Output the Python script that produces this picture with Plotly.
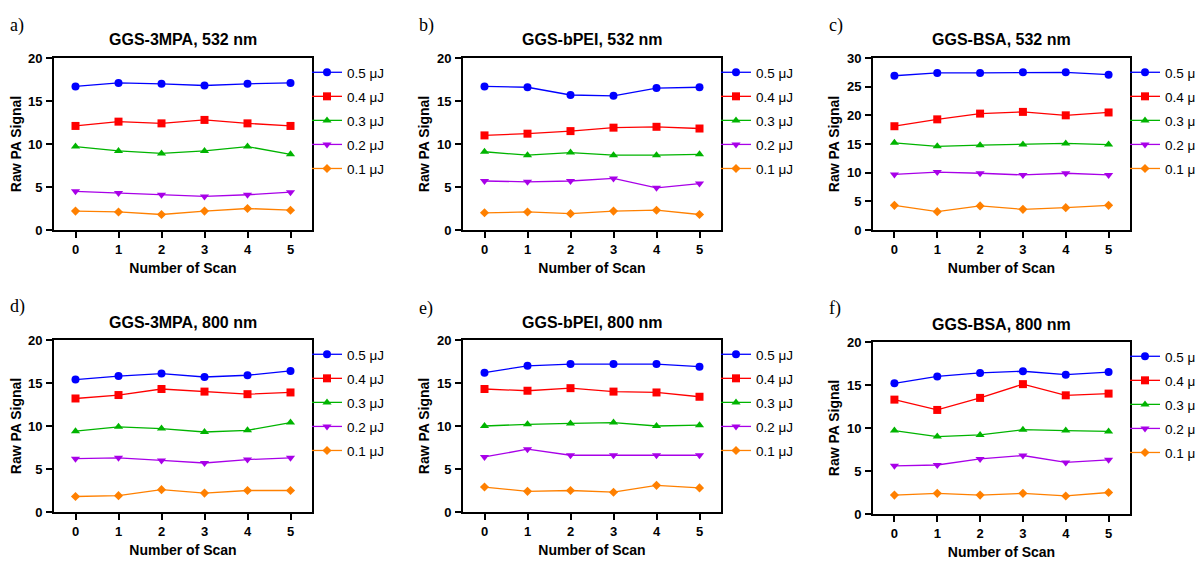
import plotly.graph_objects as go

scans = [0, 1, 2, 3, 4, 5]
energies = ["0.5 μJ", "0.4 μJ", "0.3 μJ", "0.2 μJ", "0.1 μJ"]

panel_labels = ["a)", "b)", "c)", "d)", "e)", "f)"]
panel_titles = ["GGS-3MPA, 532 nm", "GGS-bPEI, 532 nm", "GGS-BSA, 532 nm",
                "GGS-3MPA, 800 nm", "GGS-bPEI, 800 nm", "GGS-BSA, 800 nm"]

# a) GGS-3MPA 532
a_05 = [16.7, 17.1, 17.0, 16.8, 17.0, 17.1]
a_04 = [12.1, 12.6, 12.4, 12.8, 12.4, 12.1]
a_03 = [9.7, 9.2, 8.9, 9.2, 9.7, 8.8]
a_02 = [4.5, 4.3, 4.1, 3.9, 4.1, 4.4]
a_01 = [2.2, 2.1, 1.8, 2.2, 2.5, 2.3]
# b) GGS-bPEI 532
b_05 = [16.7, 16.6, 15.7, 15.6, 16.5, 16.6]
b_04 = [11.0, 11.2, 11.5, 11.9, 12.0, 11.8]
b_03 = [9.1, 8.7, 9.0, 8.7, 8.7, 8.8]
b_02 = [5.7, 5.6, 5.7, 6.0, 4.9, 5.4]
b_01 = [2.0, 2.1, 1.9, 2.2, 2.3, 1.8]
# c) GGS-BSA 532
c_05 = [26.9, 27.4, 27.4, 27.5, 27.5, 27.1]
c_04 = [18.1, 19.3, 20.3, 20.6, 20.0, 20.5]
c_03 = [15.2, 14.6, 14.8, 14.9, 15.1, 14.9]
c_02 = [9.7, 10.1, 9.9, 9.6, 9.9, 9.6]
c_01 = [4.3, 3.2, 4.2, 3.6, 3.9, 4.3]
# d) GGS-3MPA 800
d_05 = [15.4, 15.8, 16.1, 15.7, 15.9, 16.4]
d_04 = [13.2, 13.6, 14.3, 14.0, 13.7, 13.9]
d_03 = [9.4, 9.9, 9.7, 9.3, 9.5, 10.4]
d_02 = [6.2, 6.3, 6.0, 5.7, 6.1, 6.3]
d_01 = [1.8, 1.9, 2.6, 2.2, 2.5, 2.5]
# e) GGS-bPEI 800
e_05 = [16.2, 17.0, 17.2, 17.2, 17.2, 16.9]
e_04 = [14.3, 14.1, 14.4, 14.0, 13.9, 13.4]
e_03 = [10.0, 10.2, 10.3, 10.4, 10.0, 10.1]
e_02 = [6.4, 7.3, 6.6, 6.6, 6.6, 6.6]
e_01 = [2.9, 2.4, 2.5, 2.3, 3.1, 2.8]
# f) GGS-BSA 800
f_05 = [15.2, 16.0, 16.4, 16.6, 16.2, 16.5]
f_04 = [13.3, 12.1, 13.5, 15.1, 13.8, 14.0]
f_03 = [9.7, 9.0, 9.2, 9.8, 9.7, 9.6]
f_02 = [5.6, 5.7, 6.4, 6.8, 6.0, 6.3]
f_01 = [2.2, 2.4, 2.2, 2.4, 2.1, 2.5]

panels = [
    [a_05, a_04, a_03, a_02, a_01],
    [b_05, b_04, b_03, b_02, b_01],
    [c_05, c_04, c_03, c_02, c_01],
    [d_05, d_04, d_03, d_02, d_01],
    [e_05, e_04, e_03, e_02, e_01],
    [f_05, f_04, f_03, f_02, f_01],
]
y_max = [20, 20, 30, 20, 20, 20]

colors = ["#0000FF", "#FF0000", "#00B400", "#A800E8", "#FF8000"]
symbols = ["circle", "square", "triangle-up", "triangle-down", "diamond"]
msizes = [8, 8, 8, 8, 7]

# page body has an 8px margin, so the figure is drawn 8px in from the window corner
OFF = 8
W, H = 1203 - OFF, 561 - OFF
# plot-area boxes in window pixels (left, right, top, bottom)
boxes = [
    (54, 312, 58, 230), (463, 721, 58, 230), (873, 1130, 58, 230),
    (54, 312, 340, 512), (463, 721, 340, 512), (873, 1130, 342, 514),
]
label_pos = [(8, 26), (417, 26), (827, 26), (8, 306), (417, 308), (827, 308)]
legend_dx = -5


def px(xw):
    return (xw - OFF) / W


def py(yw):
    return 1 - (yw - OFF) / H


FONT = "Arial, Liberation Sans"
fig = go.Figure()
annotations = []
layout = {}
for i, (series, box) in enumerate(zip(panels, boxes)):
    n = "" if i == 0 else str(i + 1)
    l, r, t, b = box
    leg = "legend" + n
    for j, vals in enumerate(series):
        fig.add_trace(go.Scatter(
            x=scans, y=vals, name=energies[j], mode="lines+markers",
            line=dict(color=colors[j], width=1.3),
            marker=dict(color=colors[j], symbol=symbols[j], size=msizes[j]),
            xaxis="x" + n, yaxis="y" + n, legend=leg, legendgroup=f"g{i}{j}",
        ))
    axis_common = dict(showline=True, linecolor="black", linewidth=2, mirror=True,
                       ticks="outside", ticklen=6, tickwidth=2, tickcolor="black",
                       showgrid=False, zeroline=False, automargin=False,
                       tickfont=dict(family=FONT, size=13, color="black", weight="bold"))
    layout["xaxis" + n] = dict(axis_common, domain=[px(l), px(r)], anchor="y" + n,
                               range=[-0.5, 5.5], tickvals=scans,
                               title=dict(text="<b>Number of Scan</b>", standoff=8,
                                          font=dict(family=FONT, size=14, color="black")))
    layout["yaxis" + n] = dict(axis_common, domain=[py(b), py(t)], anchor="x" + n,
                               range=[0, y_max[i]], dtick=5, ticklabelstandoff=1,
                               title=dict(text="<b>Raw PA Signal</b>", standoff=4,
                                          font=dict(family=FONT, size=14, color="black")))
    layout[leg] = dict(x=px(r + legend_dx), y=py(t - 1), xanchor="left", yanchor="top",
                       font=dict(family=FONT, size=13.5, color="black"),
                       tracegroupgap=3.5, traceorder="grouped", bgcolor="rgba(0,0,0,0)",
                       itemwidth=30)
    annotations.append(dict(text="<b>" + panel_titles[i] + "</b>", x=px((l + r) / 2),
                            y=py(t - 18), xref="paper", yref="paper", showarrow=False,
                            xanchor="center", yanchor="middle",
                            font=dict(family=FONT, size=16, color="black")))
    lx, ly = label_pos[i]
    annotations.append(dict(text=panel_labels[i], x=px(lx), y=py(ly), xref="paper",
                            yref="paper", showarrow=False, xanchor="left", yanchor="middle",
                            font=dict(family="Liberation Serif, Times New Roman", size=18,
                                      color="black")))

fig.update_layout(**layout)
fig.update_layout(width=W, height=H, margin=dict(l=0, r=0, t=0, b=0, autoexpand=False),
                  plot_bgcolor="white", paper_bgcolor="white", annotations=annotations)
fig.write_html("out.html")
